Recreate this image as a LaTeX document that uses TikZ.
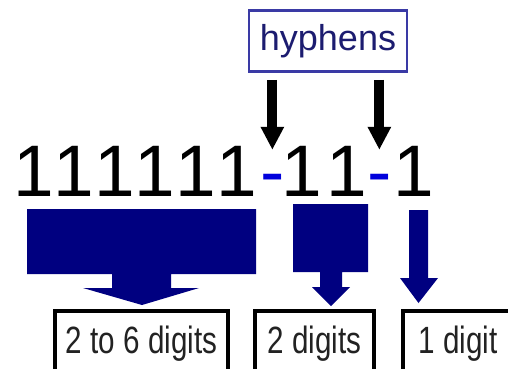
\documentclass[tikz,border=0pt]{standalone}
\usepackage{fontspec}
\setmainfont{Liberation Sans}
\newfontfamily\narrowfont[FakeStretch=0.78]{Liberation Sans}
\newfontfamily\numfont[Kerning=Off]{Liberation Sans}
\usetikzlibrary{arrows.meta}
\definecolor{navy}{RGB}{0,0,128}
\definecolor{hyblue}{RGB}{0,0,220}
\definecolor{boxblue}{RGB}{58,58,165}
\definecolor{hytext}{RGB}{28,28,112}
\definecolor{labtext}{RGB}{34,34,34}
\tikzset{
  num/.style={anchor=base west, inner sep=0pt, text height=52pt, text depth=0pt, font=\numfont\fontsize{73}{80}\selectfont},
  hyph/.style={num, text=hyblue},
  blkarrow/.style={line width=10pt, -{Triangle[width=22pt,length=23pt]}},
  blockarrow/.style={fill=navy, draw=none},
  digitbox/.style={draw=black, line width=3.5pt, anchor=base, inner sep=0pt, text height=42pt, text depth=37pt, font=\narrowfont\fontsize{38}{40}\selectfont, text=labtext},
  hypbox/.style={draw=boxblue, line width=2.5pt, minimum width=158pt, minimum height=61pt, inner sep=0pt, text=hytext, font=\fontsize{36}{40}\selectfont}
}
\begin{document}
\begin{tikzpicture}[x=1pt,y=-1pt]
\useasboundingbox (0,0) rectangle (508,368);
\clip (0,0) rectangle (508,368);
% label box
\node[hypbox] (hy) at (328,41) {hyphens};
% number
\node[num] (d1) at (13,196) {111111};
\node[hyph] (h1) at (260,196) {-};
\node[num] (d2) at (281,196) {1\hspace{4.4pt}1};
\node[hyph] (h2) at (367,196) {-};
\node[num] (d3) at (393,196) {1};
% black arrows
\draw[blkarrow, shorten <=7pt, shorten >=-6pt] (hy.south -| h1.center) -- (h1.north);
\draw[blkarrow, shorten <=7pt, shorten >=-6pt] (hy.south -| h2.center) -- (h2.north);
% navy block arrows
\fill[blockarrow] (27,209) -- (256,209) -- (256,274) -- (171,274) -- (171,288) -- (199,288) -- (142,305) -- (83,288) -- (112,288) -- (112,274) -- (27,274) -- cycle;
\fill[blockarrow] (293,204) -- (368,204) -- (368,272) -- (342,272) -- (342,287) -- (350,287) -- (331,306) -- (312,287) -- (320,287) -- (320,272) -- (293,272) -- cycle;
\fill[blockarrow] (409,210) -- (428,210) -- (428,278) -- (438,278) -- (418.5,303) -- (400,278) -- (409,278) -- cycle;
% boxes
\node[digitbox, minimum width=173pt] (b1) at (141.5,353) {2 to 6 digits};
\node[digitbox, minimum width=119pt] (b2) at (314.5,353) {2 digits};
\node[digitbox, minimum width=110pt] (b3) at (458,353) {1 digit};
\end{tikzpicture}
\end{document}
